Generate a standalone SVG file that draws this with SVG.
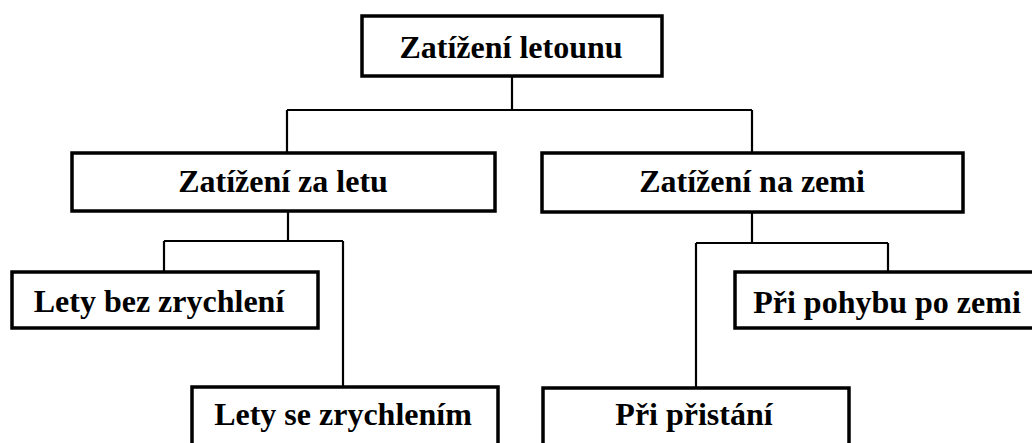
<svg xmlns="http://www.w3.org/2000/svg" width="1032" height="443" viewBox="0 0 1032 443">
<style>
.box{fill:#fff;stroke:#000;stroke-width:3.5}
text{font-family:'Liberation Serif','Times New Roman','DejaVu Serif',serif;font-weight:700;font-size:32px;fill:#000;text-anchor:middle}
.con{fill:none;stroke:#000;stroke-width:2.2}
</style>
<rect width="1032" height="443" fill="#fff"/>
<g id="connectors">
<path class="con" d="M512,76 V110 M287,110 H752 M287,110 V153 M752,110 V153"/>
<path class="con" d="M288,211 V241 M164,241 H343 M164,241 V272 M343,241 V387"/>
<path class="con" d="M752,212 V243 M696,243 H888 M888,243 V272 M696,243 V388"/>
</g>
<g id="n-root"><rect class="box" x="362" y="16" width="300" height="60"/><text x="511" y="58">Zatížení letounu</text></g>
<g id="n-flight"><rect class="box" x="72" y="153" width="423" height="58"/><text x="283" y="192">Zatížení za letu</text></g>
<g id="n-ground"><rect class="box" x="542" y="153" width="421" height="59"/><text x="752" y="192">Zatížení na zemi</text></g>
<g id="n-noacc"><rect class="box" x="12" y="272" width="306" height="56"/><text x="159" y="312">Lety bez zrychlení</text></g>
<g id="n-acc"><rect class="box" x="192" y="387" width="306" height="60"/><text x="343" y="425">Lety se zrychlením</text></g>
<g id="n-taxi"><rect class="box" x="735" y="272" width="306" height="56"/><text x="887" y="313">Při pohybu po zemi</text></g>
<g id="n-land"><rect class="box" x="543" y="388" width="306" height="60"/><text x="694" y="425">Při přistání</text></g>
</svg>
